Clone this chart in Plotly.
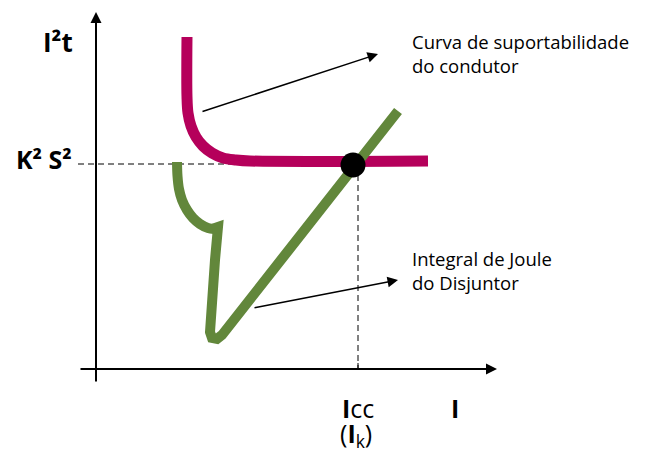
import plotly.graph_objects as go

# schematic coordinates (x to the right, y upwards), chart is 654 x 450
cabo_x = [187, 187, 188, 191, 196, 203, 212, 223, 236, 250, 428]
cabo_y = [413, 353, 337, 324, 313, 304, 297, 292, 290, 289, 289]

# curva de cima do disjuntor (suave) e o resto (com cantos)
disj_curva_x = [177, 177.5, 179, 182, 187, 193, 200, 208, 214]
disj_curva_y = [288, 274, 261, 250, 240, 232, 226, 222, 221]
disj_x = [212, 218, 215, 212, 210, 212, 217, 222, 398]
disj_y = [221, 223, 190, 150, 118, 112, 111, 115, 339]

ponto_x = [353]
ponto_y = [285]

k2s2_y = 286
icc_x = 358

eixo_x = [79, 497, 81]   # start x, end x, y level
eixo_y = [96, 67, 438]   # x level, start y, end y

seta_cabo = [201, 338, 378, 396]
seta_disj = [253, 142, 398, 170]

MAGENTA = '#B5005B'
VERDE = '#62873B'
FONT = 'Open Sans'

fig = go.Figure()

# linhas tracejadas
fig.add_trace(go.Scatter(x=[78, ponto_x[0]], y=[k2s2_y, k2s2_y], mode='lines',
                         line=dict(color='black', width=1, dash='6px,4px'), hoverinfo='skip'))
fig.add_trace(go.Scatter(x=[icc_x, icc_x], y=[ponto_y[0], eixo_x[2]], mode='lines',
                         line=dict(color='black', width=1, dash='6px,4px'), hoverinfo='skip'))
# tick
fig.add_trace(go.Scatter(x=[icc_x, icc_x], y=[eixo_x[2], eixo_x[2] + 6], mode='lines',
                         line=dict(color='black', width=1), hoverinfo='skip'))

fig.add_trace(go.Scatter(x=cabo_x, y=cabo_y, mode='lines',
                         line=dict(color=MAGENTA, width=11, shape='spline', smoothing=1)))
fig.add_trace(go.Scatter(x=disj_curva_x, y=disj_curva_y, mode='lines',
                         line=dict(color=VERDE, width=10, shape='spline', smoothing=1)))
fig.add_trace(go.Scatter(x=disj_x, y=disj_y, mode='lines',
                         line=dict(color=VERDE, width=10)))
fig.add_trace(go.Scatter(x=ponto_x, y=ponto_y, mode='markers',
                         marker=dict(color='black', size=25)))

anns = []
# eixos com setas
anns.append(dict(x=eixo_x[1], y=eixo_x[2], ax=eixo_x[0], ay=eixo_x[2]))
anns.append(dict(x=eixo_y[0], y=eixo_y[2], ax=eixo_y[0], ay=eixo_y[1]))
for a in anns:
    a.update(xref='x', yref='y', axref='x', ayref='y', text='', showarrow=True,
             arrowhead=2, arrowsize=1.1, arrowwidth=2, arrowcolor='black', standoff=0)
for s in [seta_cabo, seta_disj]:
    anns.append(dict(x=s[2], y=s[3], ax=s[0], ay=s[1], xref='x', yref='y', axref='x', ayref='y',
                     text='', showarrow=True, arrowhead=2, arrowsize=1.4, arrowwidth=1.5,
                     arrowcolor='black', standoff=0))

textos = [
    (58, 408, '<b>I²t</b>', 26, 'center'),
    (44, 291, '<b>K² S²</b>', 25, 'center'),
    (410, 397, 'Curva de suportabilidade<br>do condutor', 18.5, 'left'),
    (410, 180, 'Integral de Joule<br>do Disjuntor', 18.5, 'left'),
    (358, 42, '<b>I</b>cc', 25, 'center'),
    (356, 16, '(<b>I</b><sub>k</sub>)', 25, 'center'),
    (455, 42, '<b>I</b>', 25, 'center'),
]
for x, y, t, sz, anc in textos:
    anns.append(dict(x=x, y=y, xref='x', yref='y', text=t, showarrow=False, xanchor=anc,
                     yanchor='middle', align='left', font=dict(family=FONT, size=sz, color='black')))

# the page puts the plot 8px in from the top-left, so the area is 646 x 442
fig.update_layout(
    width=646, height=442,
    margin=dict(l=0, r=0, t=0, b=0),
    paper_bgcolor='white', plot_bgcolor='white',
    showlegend=False,
    xaxis=dict(range=[8, 654], visible=False),
    yaxis=dict(range=[0, 442], visible=False),
    annotations=anns,
)

fig.write_html("out.html")
